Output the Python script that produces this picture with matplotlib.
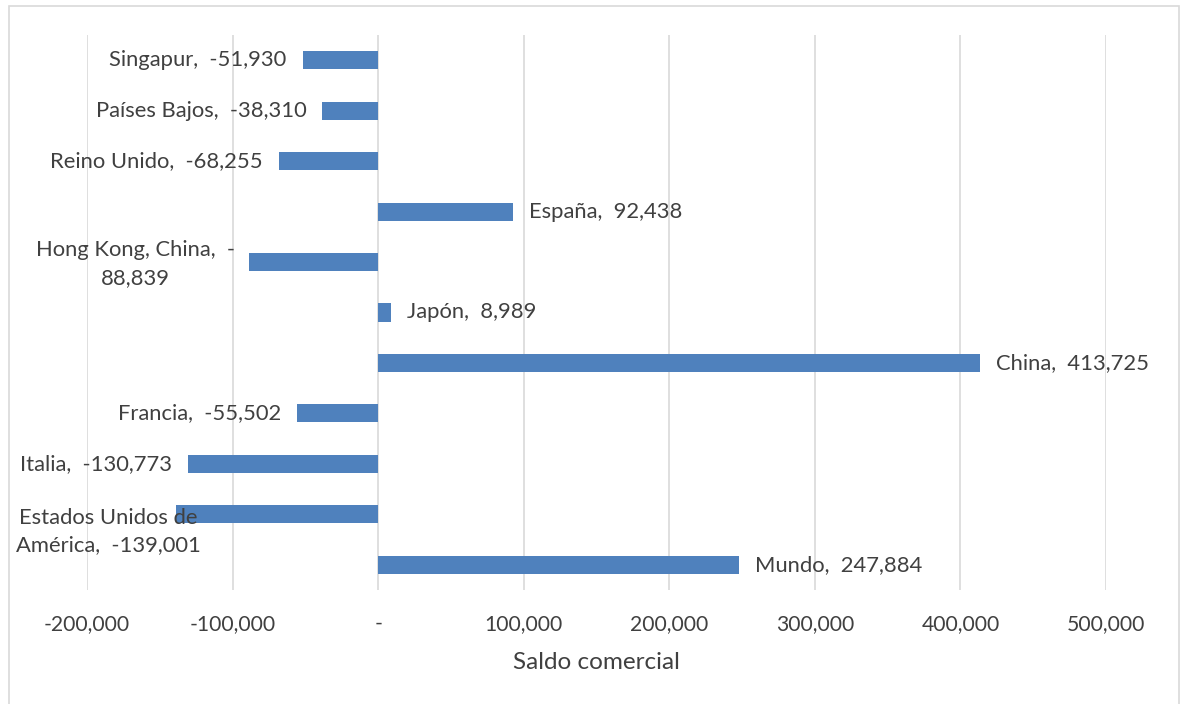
import matplotlib.pyplot as plt
from matplotlib.patches import Rectangle
from matplotlib.ticker import FuncFormatter

# Datos (de abajo hacia arriba)
paises = ['Mundo', 'Estados Unidos de América', 'Italia', 'Francia', 'China',
          'Japón', 'Hong Kong, China', 'España', 'Reino Unido', 'Países Bajos', 'Singapur']
saldo = [247884, -139001, -130773, -55502, 413725,
         8989, -88839, 92438, -68255, -38310, -51930]

# Etiquetas tal como aparecen (algunas partidas en dos líneas)
etiquetas = ['Mundo,  247,884', 'Estados Unidos de\nAmérica,  -139,001', 'Italia,  -130,773',
             'Francia,  -55,502', 'China,  413,725', 'Japón,  8,989',
             'Hong Kong, China,  -\n88,839', 'España,  92,438', 'Reino Unido,  -68,255',
             'Países Bajos,  -38,310', 'Singapur,  -51,930']

color_barra = '#4f81bd'
color_texto = '#404040'
plt.rcParams['font.family'] = ['Lato', 'DejaVu Sans']
tam = 15.8

fig = plt.figure(figsize=(11.82, 7.04), dpi=100)
ax = fig.add_axes([87 / 1182, 1 - 590 / 704, (1106 - 87) / 1182, (590 - 35) / 704])

y = list(range(len(paises)))
ax.barh(y, saldo, height=0.36, color=color_barra, zorder=2)

ax.set_xlim(-200000, 500000)
ax.set_ylim(-0.5, len(paises) - 0.5)
ax.set_xticks(range(-200000, 500001, 100000))


def formato(v, pos):
    if v == 0:
        return '-'
    return f'{v:,.0f}'


ax.xaxis.set_major_formatter(FuncFormatter(formato))
ax.tick_params(axis='x', length=0, pad=17, labelsize=15.2, labelcolor=color_texto)
ax.set_yticks([])
ax.grid(axis='x', color='#d9d9d9', linewidth=1.2, zorder=0)
for s in ax.spines.values():
    s.set_visible(False)
ax.set_xlabel('Saldo comercial', fontsize=17.5, color=color_texto, labelpad=13)

desp = 11000  # separación de la etiqueta respecto al extremo de la barra
for yi, v, txt in zip(y, saldo, etiquetas):
    if txt.startswith('Estados'):
        ax.text(-185500, yi - 0.34, txt, ha='center', va='center', fontsize=tam,
                color=color_texto, linespacing=1.45, zorder=3)
        continue
    if v < 0:
        if '\n' in txt:
            ax.text(v - desp - 67000, yi - 0.04, txt, ha='center', va='center', fontsize=tam,
                    color=color_texto, linespacing=1.45, zorder=3)
        else:
            ax.text(v - desp, yi, txt, ha='right', va='center', fontsize=tam,
                    color=color_texto, zorder=3)
    else:
        ax.text(v + desp, yi, txt, ha='left', va='center', fontsize=tam,
                color=color_texto, zorder=3)

# marco exterior del gráfico
fig.patches.append(Rectangle((9 / 1182, -0.01), (1179 - 9) / 1182, 1.01 - 6 / 704,
                             transform=fig.transFigure, fill=False,
                             edgecolor='#d9d9d9', linewidth=1.2))

fig.savefig('out.png', dpi=100)
